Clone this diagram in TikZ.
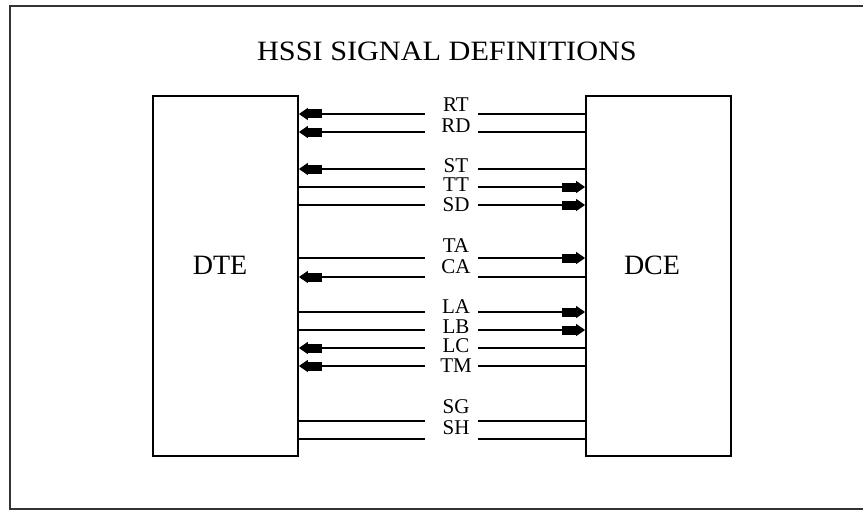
\documentclass[tikz,border=0pt]{standalone}
\usepackage{fontspec}
\setmainfont{Liberation Serif}
\usetikzlibrary{arrows.meta}
\tikzset{
  boxstyle/.style={draw, line width=1.8pt, inner sep=0pt},
  sig/.style={line width=1.3pt},
  inarrow/.style={sig, -{Square[length=14pt,width=9pt,sep=0pt]Triangle[length=9pt,width=12pt,sep=0pt]}},
  lbl/.style={font=\fontsize{21}{21}\selectfont, inner sep=0pt},
  bigtxt/.style={font=\fontsize{28}{28}\selectfont, inner sep=0pt}
}
\begin{document}
\begin{tikzpicture}[x=1pt,y=-1pt]
\useasboundingbox (0,0) rectangle (863,511);
\fill[white] (0,0) rectangle (863,511);
\draw[line width=2.5pt, black!80] (880,6) -- (10,6) -- (10,509) -- (880,509);
\node[bigtxt] (title) at (447,51) {\scalebox{1.08}[1]{HSSI SIGNAL DEFINITIONS}};
\node[boxstyle, minimum width=145pt, minimum height=360pt] (dte) at (225.5,276) {};
\node[boxstyle, minimum width=145pt, minimum height=360pt] (dce) at (658.5,276) {};
\node[bigtxt] (dtetxt) at (220,265.5) {DTE};
\node[bigtxt] (dcetxt) at (652,265.5) {DCE};
% signals: name / label y / line y / direction (l = to DTE, r = to DCE, n = none)
\foreach \nm/\ly/\y/\d in {RT/105/114/l, RD/126/132/l, ST/166/169/l, TT/185/187/r, SD/205/205/r,
  TA/246/258/r, CA/266.5/277/l, LA/307/312/r, LB/326.5/330/r, LC/346/348/l, TM/366/366/l,
  SG/407/421/n, SH/427.5/439/n}{
  \node[lbl] (\nm) at (456,\ly) {\nm};
  \coordinate (\nm L) at (425,\y);
  \coordinate (\nm R) at (478,\y);
  \if\d l
    \draw[inarrow] (\nm L) -- (dte.east |- \nm L);
    \draw[sig] (\nm R) -- (dce.west |- \nm R);
  \else\if\d r
    \draw[sig] (dte.east |- \nm L) -- (\nm L);
    \draw[inarrow] (\nm R) -- (dce.west |- \nm R);
  \else
    \draw[sig] (dte.east |- \nm L) -- (\nm L);
    \draw[sig] (\nm R) -- (dce.west |- \nm R);
  \fi\fi
}
\end{tikzpicture}
\end{document}
